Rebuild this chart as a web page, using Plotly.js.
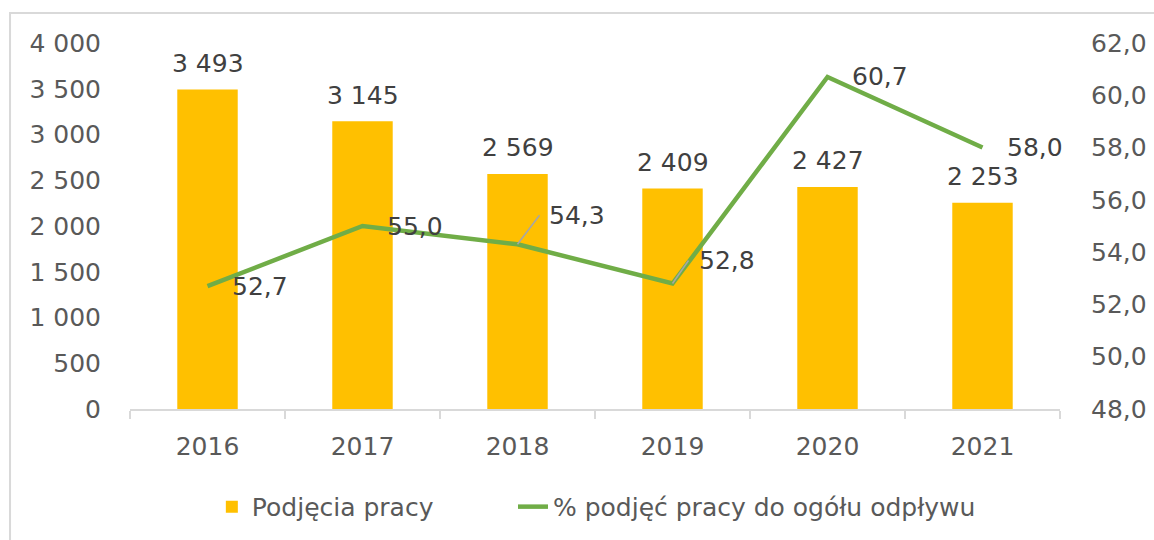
<!DOCTYPE html>
<html>
<head>
<meta charset="utf-8">
<script src="https://cdn.plot.ly/plotly-3.0.1.min.js"></script>
<style>
  html, body { margin: 0; padding: 0; background: #ffffff; }
  #chart { width: 1154px; height: 540px; }
</style>
</head>
<body>
<div id="chart"></div>
<script>
// ---- data ----
var years = ['2016', '2017', '2018', '2019', '2020', '2021'];
var podjecia = [3493, 3145, 2569, 2409, 2427, 2253];
var procent = [52.7, 55.0, 54.3, 52.8, 60.7, 58.0];
var barName = 'Podjęcia pracy';
var lineName = '% podjęć pracy do ogółu odpływu';
var leftTicks = [0, 500, 1000, 1500, 2000, 2500, 3000, 3500, 4000];
var rightTicks = [48, 50, 52, 54, 56, 58, 60, 62];

function fmtInt(v) {
  return Math.round(v).toString().replace(/\B(?=(\d{3})+(?!\d))/g, ' ');
}
function fmtDec(v) {
  return v.toFixed(1).replace('.', ',');
}

var FONT = 'DejaVu Sans, sans-serif';
var TICK_COLOR = '#595959';
var LABEL_COLOR = '#404040';

var traces = [
  {
    type: 'bar',
    name: barName,
    x: years,
    y: podjecia,
    marker: { color: '#FFC000' },
    legend: 'legend',
    hoverinfo: 'x+y'
  },
  {
    type: 'scatter',
    mode: 'lines',
    name: lineName,
    x: years,
    y: procent,
    yaxis: 'y2',
    legend: 'legend2',
    line: { color: '#70AD47', width: 4.5 },
    hoverinfo: 'x+y'
  }
];

var annotations = [];
// bar value labels (x given as category index)
years.forEach(function (yr, i) {
  annotations.push({
    x: i, y: podjecia[i], xref: 'x', yref: 'y',
    text: fmtInt(podjecia[i]),
    showarrow: false,
    xanchor: 'center', yanchor: 'middle',
    yshift: 26,
    font: { family: FONT, size: 25, color: LABEL_COLOR }
  });
});
// line value labels (indices 2 and 3 have leader lines)
var leader = { 2: { ax: 22, ay: -29, pad: 8 }, 3: { ax: 16, ay: -23, pad: 9 } };
years.forEach(function (yr, i) {
  var a = {
    x: i, y: procent[i], xref: 'x', yref: 'y2',
    text: fmtDec(procent[i]),
    xanchor: 'left', yanchor: 'middle',
    font: { family: FONT, size: 25, color: LABEL_COLOR }
  };
  if (leader[i]) {
    a.showarrow = true;
    a.arrowhead = 0;
    a.arrowwidth = 1.6;
    a.arrowcolor = '#a6a6a6';
    a.ax = leader[i].ax;
    a.ay = leader[i].ay;
    a.borderpad = leader[i].pad;
  } else {
    a.showarrow = false;
    a.xshift = 22;
  }
  annotations.push(a);
});

var legendCommon = {
  orientation: 'h',
  xanchor: 'left',
  y: -0.264, yanchor: 'middle',
  font: { family: FONT, size: 25, color: TICK_COLOR },
  bgcolor: 'rgba(0,0,0,0)'
};

var layout = {
  width: 1154,
  height: 540,
  margin: { l: 130, r: 94, t: 43, b: 130 },
  paper_bgcolor: '#ffffff',
  plot_bgcolor: '#ffffff',
  separators: ', ',
  font: { family: FONT, size: 25, color: TICK_COLOR },
  bargap: 0.61,
  showlegend: true,
  legend: Object.assign({}, legendCommon, { x: 0.088 }),
  legend2: Object.assign({}, legendCommon, { x: 0.4118 }),
  xaxis: {
    type: 'category',
    categoryorder: 'array',
    categoryarray: years,
    range: [-0.5, 5.5],
    autorange: false,
    showgrid: false,
    zeroline: false,
    showline: true,
    linecolor: '#d9d9d9',
    linewidth: 1.5,
    ticks: 'outside',
    tickson: 'boundaries',
    ticklen: 8,
    tickwidth: 1.5,
    tickcolor: '#d9d9d9',
    ticklabelstandoff: 14,
    tickangle: 0,
    tickfont: { family: FONT, size: 25, color: TICK_COLOR },
    fixedrange: true
  },
  yaxis: {
    range: [0, 4000],
    autorange: false,
    tickvals: leftTicks,
    tickformat: ',d',
    showgrid: false,
    zeroline: false,
    showline: false,
    ticks: '',
    ticklabelstandoff: 28,
    tickfont: { family: FONT, size: 25, color: TICK_COLOR },
    fixedrange: true
  },
  yaxis2: {
    overlaying: 'y',
    side: 'right',
    range: [48, 62],
    autorange: false,
    tickvals: rightTicks,
    tickformat: '.1f',
    showgrid: false,
    zeroline: false,
    showline: false,
    ticks: '',
    ticklabelstandoff: 30,
    tickfont: { family: FONT, size: 25, color: TICK_COLOR },
    fixedrange: true
  },
  annotations: annotations,
  shapes: [
    {
      type: 'rect', xref: 'paper', yref: 'paper',
      x0: -0.129, x1: 1.2, y0: -0.40, y1: 1.0817,
      line: { color: '#d9d9d9', width: 2 },
      fillcolor: 'rgba(0,0,0,0)',
      layer: 'below'
    }
  ]
};

Plotly.newPlot('chart', traces, layout, { displayModeBar: false, staticPlot: true });
</script>
</body>
</html>
